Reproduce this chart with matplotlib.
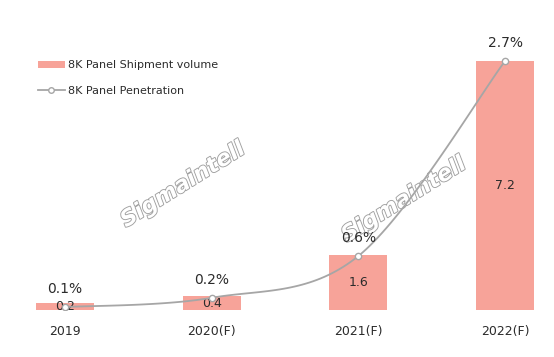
import numpy as np
import matplotlib
matplotlib.use("Agg")
import matplotlib.pyplot as plt
import matplotlib.patheffects as pe
from matplotlib.lines import Line2D
from matplotlib.patches import Patch

categories = ["2019", "2020(F)", "2021(F)", "2022(F)"]
shipment = [0.2, 0.4, 1.6, 7.2]
penetration = [0.05, 0.15, 0.6, 2.7]
shipment_labels = ["0.2", "0.4", "1.6", "7.2"]
penetration_labels = ["0.1%", "0.2%", "0.6%", "2.7%"]

BAR = "#F7A399"
LINE = "#A6A6A6"
TXT = "#2B2B2B"

plt.rcParams['font.family'] = ['DejaVu Sans']

W, H = 554, 357
X0, XS = 65, 146.7
fig = plt.figure(figsize=(W / 100, H / 100), dpi=100)
base_px = 47
ax = fig.add_axes([0, base_px / H, 1, (H - base_px) / H])
ax.set_facecolor("none")
x = np.arange(len(categories))
ax.set_xlim(-X0 / XS, (W - X0) / XS)
ax.set_ylim(0, (H - base_px) / 34.58)
ax.bar(x, shipment, width=0.395, color=BAR, zorder=2)
for xi, v, lab in zip(x, shipment, shipment_labels):
    ax.text(xi, v / 2, lab, ha="center", va="center", fontsize=9, color=TXT, zorder=3)
ax.set_xticks(x)
ax.set_xticklabels(categories, fontsize=9, color=TXT)
ax.tick_params(axis="x", length=0, pad=11)
ax.set_yticks([])
for s in ax.spines.values():
    s.set_visible(False)

ax2 = ax.twinx()
ys = 92.86
ax2.set_ylim(1.7 / ys, (H - base_px + 1.7) / ys)
ax2.set_yticks([])
for s in ax2.spines.values():
    s.set_visible(False)

# Catmull-Rom smoothing through the points
px = np.array(x, dtype=float)
py = np.array(penetration, dtype=float)
P = np.column_stack([px, py])
ext = np.vstack([P[0], P, P[-1]])
curve = []
for i in range(1, len(ext) - 2):
    p0, p1, p2, p3 = ext[i - 1], ext[i], ext[i + 1], ext[i + 2]
    t = np.linspace(0, 1, 40)[:, None]
    c = 0.5 * ((2 * p1) + (-p0 + p2) * t + (2 * p0 - 5 * p1 + 4 * p2 - p3) * t ** 2
               + (-p0 + 3 * p1 - 3 * p2 + p3) * t ** 3)
    curve.append(c)
curve = np.vstack(curve)
ax2.plot(curve[:, 0], curve[:, 1], color=LINE, lw=1.3, zorder=3)
ax2.plot(px, py, linestyle="none", marker="o", markersize=4.5,
         markerfacecolor="white", markeredgecolor=LINE, markeredgewidth=1, zorder=4)
for xi, v, lab in zip(px, py, penetration_labels):
    ax2.annotate(lab, (xi, v), xytext=(0, 8), textcoords="offset points",
                 ha="center", va="bottom", fontsize=10, color=TXT)

# watermarks
for (cx, cy) in [(183, 185), (404, 200)]:
    ax.text(cx / W, 1 - cy / H, "Sigmaintell", transform=fig.transFigure,
            rotation=32, ha="center", va="center", fontsize=16, fontweight="bold",
            style="italic", color="white", zorder=0.5,
            path_effects=[pe.withStroke(linewidth=1.3, foreground="#A0A0A0")])

handles = [Patch(facecolor=BAR, edgecolor="none"),
           Line2D([0], [0], color=LINE, lw=1.3, marker="o", markersize=4,
                  markerfacecolor="white", markeredgecolor=LINE)]
fig.legend(handles, ["8K Panel Shipment volume", "8K Panel Penetration"],
           loc="upper left", bbox_to_anchor=(28 / W, 1 - 50 / H), frameon=False,
           fontsize=8, handlelength=2.4, handleheight=0.6, labelspacing=1.4,
           handletextpad=0.3, labelcolor=TXT)

fig.savefig("out.png", dpi=100)
